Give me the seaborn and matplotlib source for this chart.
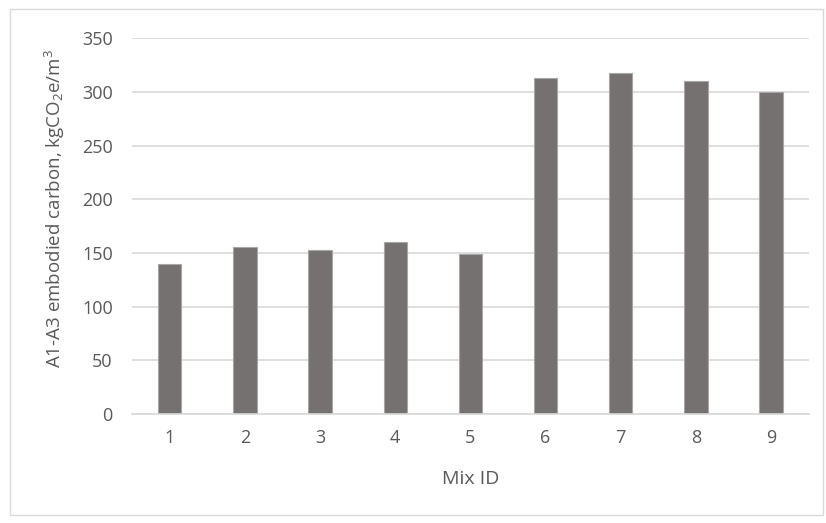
import matplotlib
matplotlib.use('Agg')
import pandas as pd
import seaborn as sns
import matplotlib.pyplot as plt
from matplotlib.patches import Rectangle

# values
mix_id = ['1', '2', '3', '4', '5', '6', '7', '8', '9']
carbon = [140, 155.5, 152.5, 160.5, 149, 313, 318, 310, 300]
y_ticks = [0, 50, 100, 150, 200, 250, 300, 350]

df = pd.DataFrame({'mix': mix_id, 'carbon': carbon})

sns.set_style('white')
plt.rcParams['font.family'] = ['Open Sans', 'DejaVu Sans']
plt.rcParams['mathtext.fontset'] = 'custom'
plt.rcParams['mathtext.rm'] = 'Open Sans'
plt.rcParams['mathtext.it'] = 'Open Sans'

text_col = '#595959'

fig = plt.figure(figsize=(8.26, 5.23), dpi=100)
ax = fig.add_axes([0.16, 0.208, 0.819, 0.719])

sns.barplot(data=df, x='mix', y='carbon', color='#767171', width=0.31,
            edgecolor='#A6A6A6', linewidth=0.8, saturation=1, ax=ax)

ax.set_ylim(0, 350)
ax.set_yticks(y_ticks)
ax.set_xlim(-0.5, len(mix_id) - 0.5)
ax.yaxis.grid(True, color='#D9D9D9', linewidth=1.2)
ax.set_axisbelow(True)
for s in ['top', 'right', 'left']:
    ax.spines[s].set_visible(False)
ax.spines['bottom'].set_color('#D9D9D9')
ax.spines['bottom'].set_linewidth(1.2)
ax.tick_params(axis='both', length=0, labelsize=13, colors=text_col)
ax.tick_params(axis='y', pad=14)
ax.tick_params(axis='x', pad=11)

ax.set_xlabel('Mix ID', fontsize=14, color=text_col, labelpad=16)
ax.set_ylabel(r'A1-A3 embodied carbon, kgCO$_2$e/m$^3$', fontsize=13.5,
              color=text_col)
ax.yaxis.set_label_coords(-0.097, 0.548)

# light chart-area border like the original
fig.patches.append(Rectangle((0.012, 0.015), 0.984, 0.968, transform=fig.transFigure,
                             fill=False, edgecolor='#D9D9D9', linewidth=1))

fig.savefig('out.png', dpi=100)
